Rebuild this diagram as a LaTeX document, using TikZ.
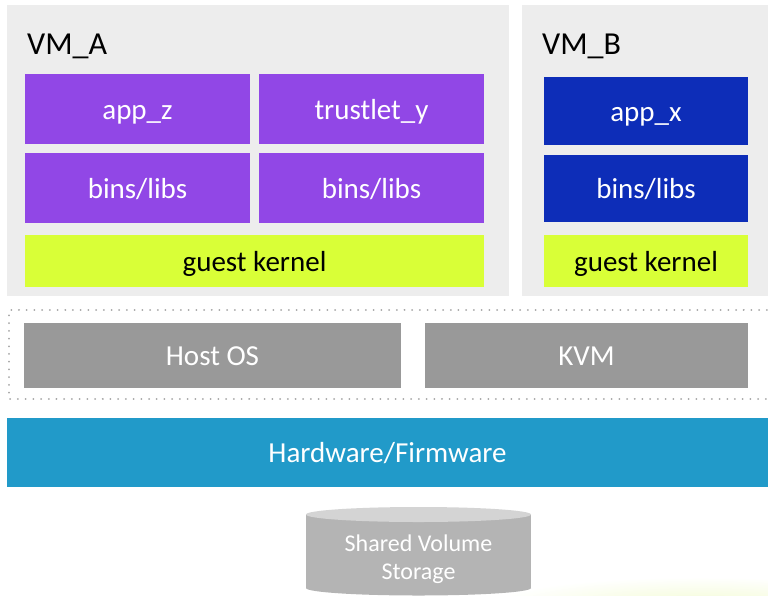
\documentclass[tikz,border=0pt]{standalone}
\usepackage{fontspec}
\setmainfont{Carlito}
\definecolor{panelgray}{RGB}{237,237,237}
\definecolor{vmpurple}{RGB}{145,71,230}
\definecolor{vmblue}{RGB}{13,45,184}
\definecolor{kernelgreen}{RGB}{217,255,55}
\definecolor{hostgray}{RGB}{153,153,153}
\definecolor{hwblue}{RGB}{33,154,201}
\definecolor{cylside}{RGB}{180,180,180}
\definecolor{cyltop}{RGB}{212,212,212}
\definecolor{dotgray}{RGB}{165,165,165}
\definecolor{glow}{RGB}{243,251,212}
\begin{document}
\begin{tikzpicture}[x=1pt,y=-1pt,
  box/.style={draw=none, inner sep=0pt, text=white, font=\fontsize{29}{34}\selectfont, text height=24pt, text depth=4pt},
  purplebox/.style={box, fill=vmpurple},
  bluebox/.style={box, fill=vmblue},
  kernelbox/.style={box, fill=kernelgreen, text=black},
  hostbox/.style={box, fill=hostgray},
  hwbox/.style={box, fill=hwblue},
  panel/.style={draw=none, fill=panelgray, inner sep=0pt},
  vmlabel/.style={anchor=base west, inner sep=0pt, font=\fontsize{32}{38}\selectfont, text=black},
  dotline/.style={draw=dotgray, line width=2pt, line cap=round, dash pattern=on 0.01pt off 7.7pt}
]
\useasboundingbox (0,0) rectangle (768,595);
\clip (0,0) rectangle (768,595);
\fill[white] (0,0) rectangle (768,595);
% faint glow bottom right
\shade[inner color=glow, outer color=white] (700,605) ellipse [x radius=210, y radius=28];

% VM panels
\node[panel, minimum width=502pt, minimum height=291pt] (panelA) at (258,150.5) {};
\node[panel, minimum width=250pt, minimum height=291pt] (panelB) at (647,150.5) {};
\node[vmlabel] (vmA) at (27,54) {VM\_A};
\node[vmlabel] (vmB) at (542,54) {VM\_B};

% VM_A contents
\node[purplebox, minimum width=225pt, minimum height=70pt] (appz) at (137.5,109) {app\_z};
\node[purplebox, minimum width=225pt, minimum height=70pt] (trust) at (371.5,109) {trustlet\_y};
\node[purplebox, minimum width=225pt, minimum height=70pt] (binsA1) at (137.5,188) {bins/libs};
\node[purplebox, minimum width=225pt, minimum height=70pt] (binsA2) at (371.5,188) {bins/libs};
\node[kernelbox, minimum width=459pt, minimum height=52pt] (kernA) at (254.5,261) {guest kernel};

% VM_B contents
\node[bluebox, minimum width=204pt, minimum height=68pt] (appx) at (646,111) {app\_x};
\node[bluebox, minimum width=204pt, minimum height=67pt] (binsB) at (646,188.5) {bins/libs};
\node[kernelbox, minimum width=204pt, minimum height=52pt] (kernB) at (646,261) {guest kernel};

% dotted host region
\draw[dotline] (790,310) -- (9,310) -- (9,399) -- (790,399);
\node[hostbox, minimum width=377pt, minimum height=65pt] (host) at (212.5,355.5) {Host OS};
\node[hostbox, minimum width=323pt, minimum height=65pt] (kvm) at (586.5,355.5) {KVM};

% hardware
\node[hwbox, minimum width=761pt, minimum height=69pt] (hw) at (387.5,452.5) {Hardware/Firmware};

% storage cylinder
\fill[cylside] (306,514.5) rectangle (531,588);
\fill[cylside] (418.5,588) ellipse [x radius=112.5, y radius=7.5];
\fill[cyltop] (418.5,514.5) ellipse [x radius=112.5, y radius=7.5];
\node[align=center, inner sep=0pt, text=white, font=\fontsize{24}{28}\selectfont] (storage) at (418.5,559.5) {Shared Volume\\Storage};
\end{tikzpicture}
\end{document}
